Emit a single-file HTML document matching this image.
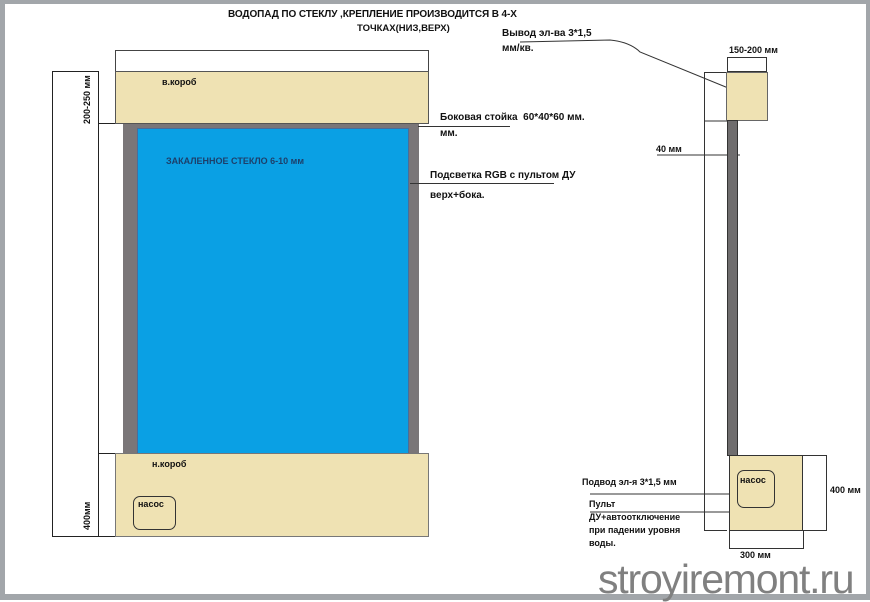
<!DOCTYPE html>
<html><head><meta charset="utf-8"><style>
*{margin:0;padding:0;box-sizing:border-box}
body{width:870px;height:600px;position:relative;background:#fff;overflow:hidden;font-family:"Liberation Sans","DejaVu Sans",sans-serif;font-weight:bold;color:#111}
.a{position:absolute}
.t{position:absolute;font-size:9px;white-space:nowrap}
.l{font-size:10px}
</style></head><body>
<div class="a" style="left:0;top:0;width:870px;height:600px;border:solid #a2a6aa;border-width:4px 4px 6px 5px"></div>

<div class="t" style="left:228px;top:9px;font-size:10px;letter-spacing:-0.1px">ВОДОПАД ПО СТЕКЛУ ,КРЕПЛЕНИЕ ПРОИЗВОДИТСЯ В 4-Х</div>
<div class="t" style="left:357px;top:23px;font-size:9.5px">ТОЧКАХ(НИЗ,ВЕРХ)</div>

<!-- left drawing -->
<div class="a" style="left:52px;top:71px;width:47px;height:466px;border:1px solid #222"></div>
<div class="a" style="left:98px;top:123px;width:26px;height:331px;border:1px solid #222;background:#fff"></div>
<div class="a" style="left:98px;top:453px;width:18px;height:84px;border:1px solid #222;background:#fff"></div>
<div class="a" style="left:115px;top:50px;width:314px;height:22px;border:1px solid #444;background:#fff"></div>
<div class="a" style="left:115px;top:71px;width:314px;height:53px;border:1px solid #555;background:#efe2b3"></div>
<div class="a" style="left:123px;top:124px;width:296px;height:330px;background:#7a7678"></div>
<div class="a" style="left:137px;top:128px;width:272px;height:326px;background:#0aa0e4;border:1px solid #4a6d9a"></div>
<div class="a" style="left:115px;top:453px;width:314px;height:84px;border:1px solid #777;background:#efe2b3"></div>
<div class="a" style="left:133px;top:496px;width:43px;height:34px;border:1px solid #333;border-radius:7px"></div>
<div class="t" style="left:162px;top:77px">в.короб</div>
<div class="t" style="left:152px;top:459px">н.короб</div>
<div class="t" style="left:138px;top:499px">насос</div>
<div class="t" style="left:166px;top:156px;color:#1d3f6a">ЗАКАЛЕННОЕ СТЕКЛО 6-10 мм</div>
<div class="t" style="left:82px;top:124px;transform:rotate(-90deg);transform-origin:0 0">200-250 мм</div>
<div class="t" style="left:82px;top:530px;transform:rotate(-90deg);transform-origin:0 0">400мм</div>

<!-- leaders left -->
<div class="a" style="left:418px;top:126px;width:92px;height:1px;background:#333"></div>
<div class="t l" style="left:440px;top:112px">Боковая стойка&nbsp; 60*40*60 мм.</div>
<div class="t l" style="left:440px;top:128px">мм.</div>
<div class="a" style="left:410px;top:183px;width:144px;height:1px;background:#333"></div>
<div class="t l" style="left:430px;top:170px">Подсветка RGB с пультом ДУ</div>
<div class="t l" style="left:430px;top:190px">верх+бока.</div>

<!-- right drawing -->
<div class="t l" style="left:502px;top:28px">Вывод эл-ва 3*1,5</div>
<div class="t l" style="left:502px;top:43px">мм/кв.</div>
<svg class="a" style="left:0;top:0" width="870" height="600">
<path d="M520 42 L610 40 Q630 42 640 52 L738 92" fill="none" stroke="#333" stroke-width="1"/>
<line x1="704" y1="121" x2="727" y2="121" stroke="#333"/>
<line x1="657" y1="155" x2="740" y2="155" stroke="#333"/>
<line x1="590" y1="494" x2="730" y2="494" stroke="#333"/>
<line x1="590" y1="512" x2="740" y2="512" stroke="#333"/>
</svg>
<div class="a" style="left:704px;top:72px;width:23px;height:459px;border:1px solid #333;border-right:none"></div>
<div class="a" style="left:727px;top:57px;width:40px;height:15px;border:1px solid #333"></div>
<div class="a" style="left:726px;top:72px;width:42px;height:49px;border:1px solid #666;background:#efe2b3"></div>
<div class="a" style="left:727px;top:120px;width:11px;height:336px;background:#6f6d6e;border:1px solid #333"></div>
<div class="a" style="left:729px;top:455px;width:74px;height:76px;border:1px solid #333;background:#efe2b3"></div>
<div class="a" style="left:802px;top:455px;width:25px;height:76px;border:1px solid #333;border-left:none"></div>
<div class="a" style="left:729px;top:530px;width:75px;height:19px;border:1px solid #333;border-top:none"></div>
<div class="a" style="left:737px;top:470px;width:38px;height:38px;border:1px solid #333;border-radius:7px"></div>
<div class="t" style="left:740px;top:475px">насос</div>
<div class="t" style="left:729px;top:45px">150-200 мм</div>
<div class="t" style="left:656px;top:144px">40 мм</div>
<div class="t" style="left:830px;top:485px">400 мм</div>
<div class="t" style="left:740px;top:550px">300 мм</div>
<div class="t" style="left:582px;top:477px">Подвод эл-я 3*1,5 мм</div>
<div class="t" style="left:589px;top:498px;line-height:13px">Пульт<br>ДУ+автоотключение<br>при падении уровня<br>воды.</div>

<div class="t" style="left:598px;top:557px;font-size:41px;line-height:44px;font-weight:normal;color:#808080;letter-spacing:-1.2px">stroyiremont.ru</div>
</body></html>
